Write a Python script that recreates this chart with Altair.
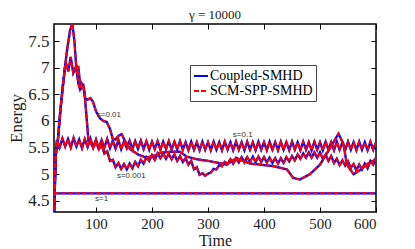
import altair as alt
import pandas as pd

methods = ["Coupled-SMHD", "SCM-SPP-SMHD"]

# s = 1 (flat)
s1_t = [25, 600]
s1_E = [4.64, 4.64]

# s = 0.1 (fast oscillation around 5.53)
s01_t = [25, 28] + list(range(30, 605, 5))
s01_E = [4.2, 5.35,
         5.64, 5.50, 5.67, 5.52, 5.66, 5.50, 5.68, 5.52, 5.65, 5.49,
         5.66, 5.51, 5.67, 5.50, 5.65, 5.49, 5.64, 5.50, 5.66, 5.49,
         5.63, 5.48, 5.64, 5.47, 5.62, 5.49, 5.63, 5.47, 5.62, 5.48,
         5.63, 5.47, 5.62, 5.46, 5.61, 5.47, 5.62, 5.46, 5.61, 5.47,
         5.62, 5.46, 5.61, 5.47, 5.62, 5.46, 5.60, 5.45, 5.61, 5.46,
         5.60, 5.45, 5.61, 5.46, 5.60, 5.45, 5.61, 5.46, 5.60, 5.45,
         5.61, 5.46, 5.60, 5.45, 5.61, 5.46, 5.60, 5.45, 5.61, 5.46,
         5.60, 5.45, 5.61, 5.46, 5.60, 5.45, 5.61, 5.46, 5.60, 5.45,
         5.61, 5.46, 5.60, 5.45, 5.61, 5.46, 5.60, 5.45, 5.61, 5.46,
         5.60, 5.45, 5.61, 5.46, 5.60, 5.45, 5.61, 5.46, 5.60, 5.45,
         5.61, 5.46, 5.60, 5.45, 5.61, 5.46, 5.60, 5.45, 5.61, 5.46,
         5.60, 5.45, 5.61, 5.46, 5.60]

# s = 0.01 (highest peak, smooth decay)
s001_t = [25, 28, 32, 36, 40, 44.6, 48.8, 53.6, 57.7, 61.3, 64.3, 66.5, 68.5,
          71.4, 74.5, 77.5, 81, 85, 90, 95, 100, 107, 113, 119, 125, 130,
          135, 140, 146, 152, 161, 175, 190, 205, 214, 232, 250, 262, 280,
          300, 315, 333, 351, 375, 393, 417, 441, 452, 464, 482, 500, 518,
          533, 542, 548, 560, 572, 586, 600]
s001_E = [4.2, 5.35, 5.65, 6.15, 6.55, 7.02, 7.36, 7.7, 7.83, 7.52, 7.08, 6.98,
          7.0, 6.72, 6.62, 6.66, 6.42, 6.4, 6.43, 6.35, 6.18, 6.05, 6.0, 5.98,
          5.85, 5.66, 5.65, 5.72, 5.75, 5.62, 5.47, 5.37, 5.31, 5.35, 5.4,
          5.42, 5.42, 5.33, 5.28, 5.25, 5.22, 5.18, 5.3, 5.2, 5.18, 5.15,
          5.09, 4.93, 4.9, 5.0, 5.18, 5.49, 5.76, 5.56, 5.18, 5.0, 5.08, 5.2,
          5.28]

# s = 0.001 (zig-zag peak, then oscillating decay)
s0001_t = [25, 28, 32, 36, 40, 44.6, 46.4, 50.5, 54.8, 59.4, 64.3, 68.4,
           71.4, 74.5, 78, 80.5, 82.5, 84.5, 86.5] + list(range(90, 605, 5))
s0001_E = [4.2, 5.35, 5.65, 6.15, 6.6, 7.0, 7.08, 6.93, 7.2, 6.9, 7.02, 6.71,
           6.6, 6.7, 6.62, 6.4, 6.15, 5.9, 5.62,
           5.60, 5.50, 5.60, 5.47, 5.55, 5.39, 5.43, 5.25, 5.27, 5.13,
           5.21, 5.10, 5.19, 5.09, 5.20, 5.11, 5.23, 5.15, 5.27, 5.20,
           5.32, 5.25, 5.36, 5.27, 5.39, 5.30, 5.39, 5.29, 5.38, 5.28,
           5.37, 5.25, 5.34, 5.23, 5.30, 5.18, 5.25, 5.09, 5.13, 4.99,
           5.02, 4.97, 5.01, 5.03, 5.10, 5.09, 5.17, 5.15, 5.23, 5.19,
           5.28, 5.20, 5.30, 5.22, 5.32, 5.22, 5.32, 5.23, 5.33, 5.23,
           5.33, 5.23, 5.32, 5.22, 5.31, 5.21, 5.30, 5.20, 5.30, 5.21,
           5.32, 5.24, 5.34, 5.26, 5.37, 5.29, 5.39, 5.31, 5.41, 5.31,
           5.41, 5.31, 5.41, 5.29, 5.37, 5.25, 5.34, 5.21, 5.29, 5.17,
           5.26, 5.16, 5.24, 5.12, 5.19, 5.07, 5.18, 5.09, 5.20, 5.11,
           5.25, 5.18, 5.31]

curves = {
    "s=1": (s1_t, s1_E),
    "s=0.1": (s01_t, s01_E),
    "s=0.01": (s001_t, s001_E),
    "s=0.001": (s0001_t, s0001_E),
}

# annotation labels
lab_text = ["s=0.01", "s=0.001", "s=1", "s=0.1"]
lab_t = [123, 163, 110, 362]
lab_E = [6.12, 4.97, 4.53, 5.73]

rows = []
for m in methods:
    for name, (ts, es) in curves.items():
        for t, e in zip(ts, es):
            rows.append({"t": t, "E": e, "curve": name, "method": m})
df = pd.DataFrame(rows)
df_blue = df[df.method == methods[0]]
df_red = df[df.method == methods[1]]
df_lab = pd.DataFrame({"t": lab_t, "E": lab_E, "label": lab_text})
df_frame = pd.DataFrame({"t": s1_t, "E": s1_E})

SERIF = "Liberation Serif"
xs = alt.Scale(domain=[25, 600], nice=False, zero=False)
ys = alt.Scale(domain=[4.29, 7.82], nice=False, zero=False)

x_ticks = [100, 200, 300, 400, 500, 600]
y_ticks = [4.5, 5, 5.5, 6, 6.5, 7, 7.5]

tick_axis = dict(offset=-5, tickSize=5, tickWidth=1, tickColor="black",
                 domain=False, grid=False)

x_axis = alt.Axis(orient="bottom", values=x_ticks, labelFontSize=15,
                  labelPadding=4, title="Time", titleFontSize=16,
                  titlePadding=1, **tick_axis)
y_axis = alt.Axis(orient="left", values=y_ticks, format="~g", labelFontSize=17,
                  labelPadding=5, title="Energy", titleFontSize=17,
                  titlePadding=2, **tick_axis)
x_top = alt.Axis(orient="top", values=x_ticks, labels=False, title=None, **tick_axis)
y_right = alt.Axis(orient="right", values=y_ticks, labels=False, title=None, **tick_axis)

legend = alt.Legend(title=None, orient="none", legendX=136, legendY=41,
                    direction="vertical")

color = alt.Color("method:N", scale=alt.Scale(domain=methods, range=["#0000ff", "#ff0000"]),
                  legend=legend)
dash = alt.StrokeDash("method:N", scale=alt.Scale(domain=methods, range=[[1, 0], [5, 2]]),
                      legend=legend)

blue = alt.Chart(df_blue).mark_line(strokeWidth=2.4, clip=True).encode(
    x=alt.X("t:Q", scale=xs, axis=x_axis),
    y=alt.Y("E:Q", scale=ys, axis=y_axis),
    color=color, strokeDash=dash, detail="curve:N")

red = alt.Chart(df_red).mark_line(strokeWidth=2, clip=True).encode(
    x=alt.X("t:Q", scale=xs, axis=None),
    y=alt.Y("E:Q", scale=ys, axis=None),
    color=color, strokeDash=dash, detail="curve:N")

labels = alt.Chart(df_lab).mark_text(font="Liberation Sans", fontSize=8,
                                     color="#333333").encode(
    x=alt.X("t:Q", scale=xs, axis=None),
    y=alt.Y("E:Q", scale=ys, axis=None),
    text="label:N")

frame = alt.Chart(df_frame).mark_line(opacity=0).encode(
    x=alt.X("t:Q", scale=xs, axis=x_top),
    y=alt.Y("E:Q", scale=ys, axis=y_right))

chart = alt.layer(blue, red, labels, frame).resolve_axis(
    x="independent", y="independent"
).properties(
    width=322, height=188,
    title=alt.TitleParams("γ = 10000", font=SERIF, fontSize=13,
                          fontWeight="normal", color="#222222", offset=2,
                          anchor="middle"),
    autosize=alt.AutoSizeParams(type="none"),
    padding={"left": 46, "top": 16, "right": 31, "bottom": 37},
).configure_view(
    stroke="black", strokeWidth=1.5
).configure_axis(
    labelFont=SERIF, labelColor="#222222", titleFont=SERIF,
    titleFontWeight="normal", titleColor="#222222"
).configure_legend(
    strokeColor="#444444", fillColor="white", padding=3, labelFont=SERIF,
    labelFontSize=14, labelColor="black", symbolType="stroke",
    symbolSize=196, symbolStrokeWidth=2, labelOffset=1, rowPadding=0
)

chart.save("out.html", embed_options={"renderer": "svg", "actions": False})
